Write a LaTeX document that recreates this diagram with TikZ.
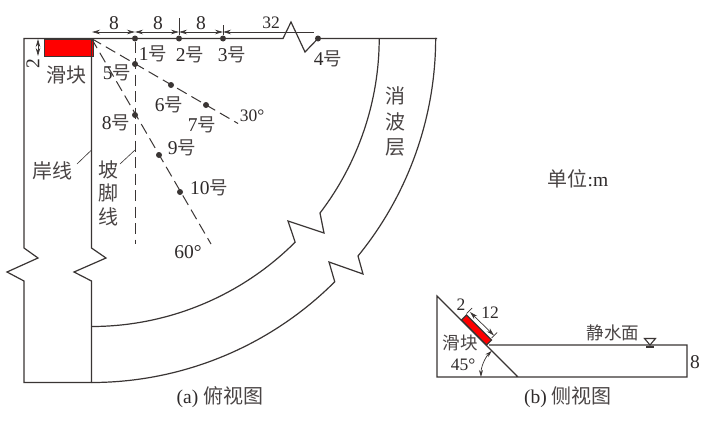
\documentclass[tikz,border=0pt]{standalone}
\usepackage{fontspec}
\setmainfont{Liberation Serif}
\newfontfamily\cjk{Noto Sans CJK SC}
\usetikzlibrary{arrows.meta}
\definecolor{ink}{HTML}{3A3534}
\definecolor{txt}{HTML}{2E2A2A}
\definecolor{cjktxt}{HTML}{4A4545}
\tikzset{
  wall/.style={draw=ink,line width=1.2pt,line join=miter},
  thin leader/.style={draw=ink,line width=0.6pt},
  dashline/.style={draw=ink,line width=1pt,dash pattern=on 11pt off 5.5pt},
  dim/.style={draw=ink,line width=0.7pt},
  dimarrow/.style={dim,{Stealth[length=8pt,width=4.5pt]}-{Stealth[length=8pt,width=4.5pt]}},
  dimleft/.style={dim,{Stealth[length=8pt,width=4.5pt]}-},
  dot/.style={circle,fill=ink,inner sep=0pt,minimum size=6pt},
  lab/.style={inner sep=0pt,text=txt,font=\fontsize{19.5}{20}\selectfont},
  smalllab/.style={inner sep=0pt,text=txt,font=\fontsize{17.5}{18}\selectfont},
  cj/.style={inner sep=0pt,text=cjktxt,font=\fontsize{20}{20}\selectfont\cjk},
  smallcj/.style={inner sep=0pt,text=cjktxt,font=\fontsize{17.5}{18}\selectfont\cjk},
  redbox/.style={fill=red,draw=ink,line width=1.1pt},
}
\newcommand{\hao}{{\color{cjktxt}\cjk\fontsize{18.5}{20}\selectfont 号}}
\newcommand{\cjt}[1]{{\color{cjktxt}\cjk\fontsize{20}{20}\selectfont #1}}
\begin{document}
\begin{tikzpicture}[x=1pt,y=-1pt]
\useasboundingbox (0,0) rectangle (719,423);
% plan view
\coordinate (o) at (91.5,38.5);
\fill[white] (0,0) rectangle (719,423);
\node[redbox,minimum width=49pt,minimum height=17.5pt,inner sep=0pt,anchor=north west] (slider) at (44,38.5) {};
\draw[wall] (91.5,326) -- (91.5,382.5) -- (24,382.5) -- (24,281) -- (7,272) -- (38,258) -- (24,248) -- (24,38.5) -- (283,38.5) -- (291,22) -- (305,52) -- (318,38.5) -- (437,38.5);
\draw[wall] (91.5,38.5) -- (91.5,248) -- (106,258) -- (74,272) -- (91.5,281) -- (91.5,326);
% wave-absorbing layer
\draw[wall] (91.5,326.5) arc[start angle=90,end angle=45,radius=288] -- (288,221) -- (324,233) -- (320,213) arc[start angle=37.4,end angle=0,radius=288];
\draw[wall] (91.5,382.5) arc[start angle=90,end angle=45,radius=344] -- (329,262) -- (363,274) -- (358,256) arc[start angle=39.2,end angle=0,radius=345];
% gauges
\node[dot] (g1) at (135,38.5) {};
\node[dot] (g2) at (179,38.5) {};
\node[dot] (g3) at (223,38.5) {};
\node[dot] (g4) at (318,38.5) {};
\node[dot] (g5) at (135,64) {};
\node[dot] (g6) at (171,85) {};
\node[dot] (g7) at (206,105) {};
\node[dot] (g8) at (135,115) {};
\node[dot] (g9) at (159,155) {};
\node[dot] (g10) at (180,192) {};
\coordinate (e30) at (238,123.5);
\coordinate (e60) at (211,244);
\coordinate (e90) at (135,244);
\draw[dashline] (o) -- (e30);
\draw[dashline] (o) -- (e60);
\draw[dashline] (g1) -- (e90);
% dimensions
\coordinate (d0) at (92,32);
\coordinate (d1) at (135,32);
\coordinate (d2) at (179,32);
\coordinate (d3) at (223,32);
\coordinate (d4) at (314,32);
\draw[dimarrow] (d0) -- (d1);
\draw[dimarrow] (d1) -- (d2);
\draw[dimarrow] (d2) -- (d3);
\draw[dimleft] (d3) -- (d4);
\draw[dim] (g2) -- (179,18);
\draw[dim] (g3) -- (223,25);
\draw[dimarrow] (38,39) -- (38,56);
\node[lab,rotate=90] (l2) at (33,64) {2};
\node[lab] (l8a) at (114,23.5) {8};
\node[lab] (l8b) at (158,23.5) {8};
\node[lab] (l8c) at (201,23.5) {8};
\node[smalllab] (l32) at (271,23) {32};
% labels
\node[cj] (sl) at (66,75) {滑块};
\node[lab] (n1) at (153,54) {1\hao};
\node[lab] (n2) at (190,55) {2\hao};
\node[lab] (n3) at (232,55) {3\hao};
\node[lab] (n4) at (328,59) {4\hao};
\node[lab] (n5) at (117,73) {5\hao};
\node[lab] (n6) at (169,105) {6\hao};
\node[lab] (n7) at (202,125) {7\hao};
\node[lab] (n8) at (116,123) {8\hao};
\node[lab] (n9) at (182,148) {9\hao};
\node[lab] (n10) at (209,188) {10\hao};
\node[smalllab] (a30) at (252,116) {30°};
\node[lab] (a60) at (188,252) {60°};
\node[cj] (shore) at (52,171) {岸线};
\draw[thin leader] (77,164) -- (91.5,150);
\node[cj] (toe1) at (108,170) {坡};
\node[cj] (toe2) at (108,193) {脚};
\node[cj] (toe3) at (108,217) {线};
\draw[thin leader] (120,164) -- (135,150);
\node[cj] (w1) at (395,96) {消};
\node[cj] (w2) at (395,122) {波};
\node[cj] (w3) at (395,147) {层};
\node[lab] (cap1) at (220,397) {(a) \cjt{俯视图}};
\node[lab] (unit) at (578,179) {\cjt{单位}:m};
% side view
\draw[wall] (518,377) -- (437,296) -- (437,377) -- (687,377) -- (687,345) -- (489,345);
\draw[redbox] (461.5,320) -- (486.5,345) -- (491.5,340) -- (466.5,315) -- cycle;
\draw[dimarrow] (470,312) -- (494,335.5);
\draw[dim] (466.5,313.5) -- (472,308);
\draw[dim] (491.5,338) -- (497,332.5);
\draw[dim,{Stealth[length=7pt,width=4pt]}-{Stealth[length=7pt,width=4pt]}] (491.8,350.8) arc[start angle=225,end angle=180,radius=37];
\node[smalllab] (s2) at (461,305) {2};
\node[smalllab] (s12) at (490,313) {12};
\node[smallcj] (s5) at (460,343) {滑块};
\node[smalllab] (s45) at (463,365) {45°};
\node[smallcj] (still) at (613,333) {静水面};
\draw[draw=ink,line width=1.1pt,fill=white] (644.5,338.5) -- (655.5,338.5) -- (650,345) -- cycle;
\draw[draw=ink,line width=1.4pt] (646,347) -- (654,347);
\node[lab] (s8) at (695,362) {8};
\node[lab] (cap2) at (568,397) {(b) \cjt{侧视图}};
\end{tikzpicture}
\end{document}
